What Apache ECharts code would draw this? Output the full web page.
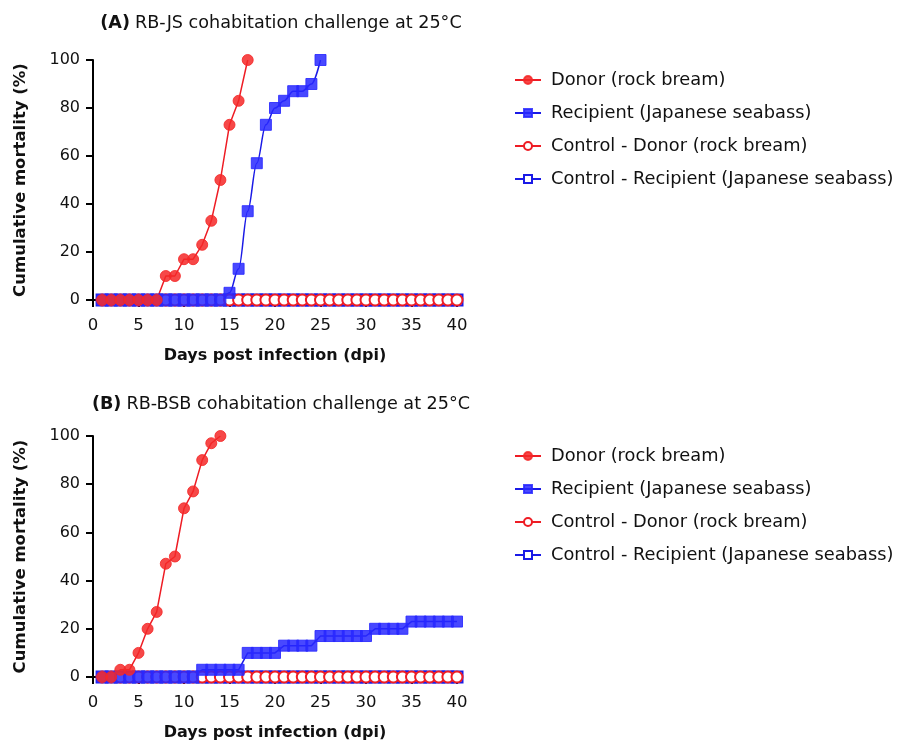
<!DOCTYPE html>
<html>
<head>
<meta charset="utf-8">
<script src="https://cdn.jsdelivr.net/npm/echarts@6/dist/echarts.min.js"></script>
<style>
html,body{margin:0;padding:0;background:#fff;}
#chart{width:903px;height:749px;}
</style>
</head>
<body>
<div id="chart"></div>
<script>
// ---- data ----
const xTicks = [0, 5, 10, 15, 20, 25, 30, 35, 40];
const yTicks = [0, 20, 40, 60, 80, 100];
const seriesNames = ['Donor (rock bream)', 'Recipient (Japanese seabass)', 'Control - Donor (rock bream)', 'Control - Recipient (Japanese seabass)'];

// Panel A: RB-JS (values for day 1, 2, 3, ...)
const donorA = [0, 0, 0, 0, 0, 0, 0, 10, 10, 17, 17, 23, 33, 50, 73, 83, 100];
const recipientA = [0, 0, 0, 0, 0, 0, 0, 0, 0, 0, 0, 0, 0, 0, 3, 13, 37, 57, 73, 80, 83, 87, 87, 90, 100];
const controlDonorA = [0, 0, 0, 0, 0, 0, 0, 0, 0, 0, 0, 0, 0, 0, 0, 0, 0, 0, 0, 0, 0, 0, 0, 0, 0, 0, 0, 0, 0, 0, 0, 0, 0, 0, 0, 0, 0, 0, 0, 0];
const controlRecipientA = [0, 0, 0, 0, 0, 0, 0, 0, 0, 0, 0, 0, 0, 0, 0, 0, 0, 0, 0, 0, 0, 0, 0, 0, 0, 0, 0, 0, 0, 0, 0, 0, 0, 0, 0, 0, 0, 0, 0, 0];

// Panel B: RB-BSB (values for day 1, 2, 3, ...)
const donorB = [0, 0, 3, 3, 10, 20, 27, 47, 50, 70, 77, 90, 97, 100];
const recipientB = [0, 0, 0, 0, 0, 0, 0, 0, 0, 0, 0, 3, 3, 3, 3, 3, 10, 10, 10, 10, 13, 13, 13, 13, 17, 17, 17, 17, 17, 17, 20, 20, 20, 20, 23, 23, 23, 23, 23, 23];
const controlDonorB = [0, 0, 0, 0, 0, 0, 0, 0, 0, 0, 0, 0, 0, 0, 0, 0, 0, 0, 0, 0, 0, 0, 0, 0, 0, 0, 0, 0, 0, 0, 0, 0, 0, 0, 0, 0, 0, 0, 0, 0];
const controlRecipientB = [0, 0, 0, 0, 0, 0, 0, 0, 0, 0, 0, 0, 0, 0, 0, 0, 0, 0, 0, 0, 0, 0, 0, 0, 0, 0, 0, 0, 0, 0, 0, 0, 0, 0, 0, 0, 0, 0, 0, 0];

const titleA = 'RB-JS cohabitation challenge at 25°C';
const titleB = 'RB-BSB cohabitation challenge at 25°C';
const xName = 'Days post infection (dpi)';
const yName = 'Cumulative mortality (%)';

// ---- styling / build ----
const FONT = 'DejaVu Sans';
const RED = '#ee1c24';
const BLUE = '#1a1ae6';
const RED_FILL = 'rgba(245,40,40,0.85)';
const BLUE_FILL = 'rgba(40,40,255,0.85)';

function toPairs(arr) { return arr.map((v, i) => [i + 1, v]); }

const gridsPos = [
  { left: 93, top: 60, width: 364, height: 240 },
  { left: 93, top: 436, width: 364, height: 241 }
];

const axisLine = { show: true, lineStyle: { color: '#000', width: 2 } };
const axisTick = { show: true, length: 7, inside: false, lineStyle: { color: '#000', width: 2 } };

const xAxes = gridsPos.map((g, i) => ({
  type: 'value', gridIndex: i, min: 0, max: 40, interval: 5,
  axisLine: axisLine, axisTick: axisTick, splitLine: { show: false },
  axisLabel: { color: '#111', fontFamily: FONT, fontSize: 16.5, margin: 17 },
  name: xName, nameLocation: 'middle', nameGap: 48,
  nameTextStyle: { color: '#111', fontFamily: FONT, fontSize: 16, fontWeight: 'bold' }
}));
const yAxes = gridsPos.map((g, i) => ({
  type: 'value', gridIndex: i, min: 0, max: 100, interval: 20,
  axisLine: axisLine, axisTick: axisTick, splitLine: { show: false },
  axisLabel: { color: '#111', fontFamily: FONT, fontSize: 16, margin: 13 },
  name: yName, nameLocation: 'middle', nameGap: 64,
  nameTextStyle: { color: '#111', fontFamily: FONT, fontSize: 16.5, fontWeight: 'bold' }
}));

function mkSeries(name, data, idx, kind, extra) {
  const isRed = kind === 'donor' || kind === 'cdonor';
  const isOpen = kind === 'cdonor' || kind === 'crecip';
  const col = isRed ? RED : BLUE;
  const s = {
    name: name, type: 'line', xAxisIndex: idx, yAxisIndex: idx,
    data: toPairs(data),
    symbol: isRed ? 'circle' : 'rect',
    symbolSize: 11,
    showAllSymbol: true,
    lineStyle: { color: col, width: 1.5 },
    itemStyle: isOpen ? { color: '#fff', borderColor: col, borderWidth: 2 }
                      : { color: isRed ? RED_FILL : BLUE_FILL, borderColor: isRed ? RED_FILL : BLUE_FILL, borderWidth: 1 },
    emphasis: { disabled: true },
    animation: false
  };
  return Object.assign(s, extra || {});
}

const series = [
  mkSeries(seriesNames[3], controlRecipientA, 0, 'crecip'),
  mkSeries(seriesNames[2], controlDonorA, 0, 'cdonor'),
  mkSeries(seriesNames[1], recipientA, 0, 'recip', { smooth: 0.35, smoothMonotone: 'x' }),
  mkSeries(seriesNames[0], donorA, 0, 'donor'),
  mkSeries(seriesNames[3], controlRecipientB, 1, 'crecip'),
  mkSeries(seriesNames[2], controlDonorB, 1, 'cdonor'),
  mkSeries(seriesNames[1], recipientB, 1, 'recip'),
  mkSeries(seriesNames[0], donorB, 1, 'donor')
];

const legendBase = {
  orient: 'vertical', left: 509, itemWidth: 26, itemHeight: 10, itemGap: 15,
  selectedMode: false,
  textStyle: { color: '#111', fontFamily: FONT, fontSize: 17.8, padding: [0, 0, 0, 5] },
  data: seriesNames
};

const titleRich = {
  b: { fontFamily: FONT, fontSize: 17.6, fontWeight: 'bold', color: '#111' },
  n: { fontFamily: FONT, fontSize: 17.6, fontWeight: 'normal', color: '#111' }
};

const option = {
  backgroundColor: '#fff',
  animation: false,
  title: [
    { text: '{b|(A)} {n|' + titleA + '}', left: 276, top: 9, textAlign: 'center', textStyle: { fontWeight: 'normal', rich: titleRich } },
    { text: '{b|(B)} {n|' + titleB + '}', left: 276, top: 390, textAlign: 'center', textStyle: { fontWeight: 'normal', rich: titleRich } }
  ],
  legend: [
    Object.assign({}, legendBase, { top: 66 }),
    Object.assign({}, legendBase, { top: 442 })
  ],
  grid: gridsPos.map(g => Object.assign({ containLabel: false }, g)),
  xAxis: xAxes,
  yAxis: yAxes,
  series: series
};

const chart = echarts.init(document.getElementById('chart'), null, { renderer: 'canvas' });
chart.setOption(option);
</script>
</body>
</html>
